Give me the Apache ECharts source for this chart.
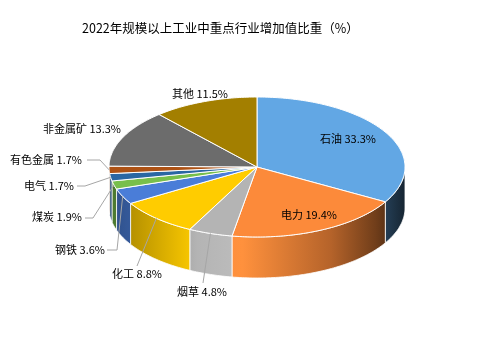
<!DOCTYPE html>
<html>
<head>
<meta charset="utf-8">
<script src="https://cdn.jsdelivr.net/npm/echarts@6/dist/echarts.min.js"></script>
<style>
  html, body { margin: 0; padding: 0; background: #fff; }
  #chart { width: 479px; height: 351px; }
</style>
</head>
<body>
<div id="chart"></div>
<script>
// data
const categories = ['石油', '电力', '烟草', '化工', '钢铁', '煤炭', '电气', '有色金属', '非金属矿', '其他'];
const shares = [33.3, 19.4, 4.8, 8.8, 3.6, 1.9, 1.7, 1.7, 13.3, 11.5];

// style / layout
const colors = ['#62a7e4', '#fc8a3a', '#b4b4b4', '#ffcc00', '#4a7dd8', '#78bf4c', '#2a67a3', '#ad5215', '#6c6c6c', '#a37f00'];
const labelPos = [[348, 139], [309, 215], [202, 292], [137, 274], [80, 250], [57, 217], [49, 186], [46, 160], [82, 129], [200, 94]];
const leaderFrom = [null, null, [[203, 283]], [[137, 266]], [[107, 250], [117, 250]], [[85, 218], [93, 218]],
  [[77, 186], [85, 186]], [[87, 160], [100, 160]], null, null];

const cx = 257, cy = 167, rx = 148, ry = 70, depth = 41;
const font = '11px "Noto Sans CJK SC", sans-serif';

const total = shares.reduce((a, b) => a + b, 0);
const starts = [];
let acc = 0;
shares.forEach(v => { starts.push(acc); acc += v; });

function pt(deg, dy) {
  const r = deg * Math.PI / 180;
  return [cx + rx * Math.cos(r), cy - ry * Math.sin(r) + (dy || 0)];
}
function arc(a0, a1, dy) {
  const pts = [];
  const n = Math.max(2, Math.ceil(Math.abs(a0 - a1)));
  for (let i = 0; i <= n; i++) pts.push(pt(a0 + (a1 - a0) * i / n, dy));
  return pts;
}
function shade(hex, f) {
  const n = parseInt(hex.slice(1), 16);
  const c = [n >> 16, (n >> 8) & 255, n & 255].map(v => Math.min(255, Math.round(v * f)));
  return 'rgb(' + c.join(',') + ')';
}
function wallFill(hex) {
  return new echarts.graphic.LinearGradient(cx - rx, 0, cx + rx, 0, [
    { offset: 0, color: shade(hex, 0.62) },
    { offset: 0.3, color: shade(hex, 1.0) },
    { offset: 0.45, color: shade(hex, 1.05) },
    { offset: 0.75, color: shade(hex, 0.72) },
    { offset: 0.9, color: shade(hex, 0.45) },
    { offset: 1, color: shade(hex, 0.22) }
  ], true);
}

const chart = echarts.init(document.getElementById('chart'));

chart.setOption({
  backgroundColor: '#fff',
  animation: false,
  title: {
    text: '2022年规模以上工业中重点行业增加值比重（%）',
    left: 77,
    top: 17,
    textStyle: { fontSize: 12.5, fontWeight: 'normal', color: '#000', fontFamily: '"Noto Sans CJK SC", sans-serif' }
  },
  series: [{
    type: 'custom',
    coordinateSystem: 'none',
    data: shares.map((v, i) => ({ name: categories[i], value: v })),
    renderItem: function (params, api) {
      const i = params.dataIndex;
      const v = api.value(0);
      const a0 = 90 - starts[i] / total * 360;
      const a1 = a0 - v / total * 360;
      const children = [];

      // front wall (visible part of the rim)
      const w0 = Math.min(a0, 0), w1 = Math.max(a1, -180);
      if (w0 > w1) {
        children.push({
          type: 'polygon',
          z2: 1,
          shape: { points: arc(w0, w1, 0).concat(arc(w1, w0, depth)) },
          style: { fill: wallFill(colors[i]), stroke: '#fff', lineWidth: 0.8 }
        });
      }

      // top face
      children.push({
        type: 'polygon',
        z2: 2,
        shape: { points: [[cx, cy]].concat(arc(a0, a1, 0)) },
        style: { fill: colors[i], stroke: '#fff', lineWidth: 1 }
      });

      // leader line to the slice mid point
      if (leaderFrom[i]) {
        const mid = pt((a0 + a1) / 2, 0);
        children.push({
          type: 'polyline',
          z2: 5,
          shape: { points: leaderFrom[i].concat([mid]) },
          style: { stroke: '#a6a6a6', lineWidth: 1, fill: null }
        });
      }

      children.push({
        type: 'text',
        z2: 6,
        x: labelPos[i][0],
        y: labelPos[i][1],
        style: {
          text: categories[i] + ' ' + v.toFixed(1) + '%',
          align: 'center',
          verticalAlign: 'middle',
          font: font,
          fill: '#000'
        }
      });

      return { type: 'group', children: children };
    }
  }]
});
</script>
</body>
</html>
